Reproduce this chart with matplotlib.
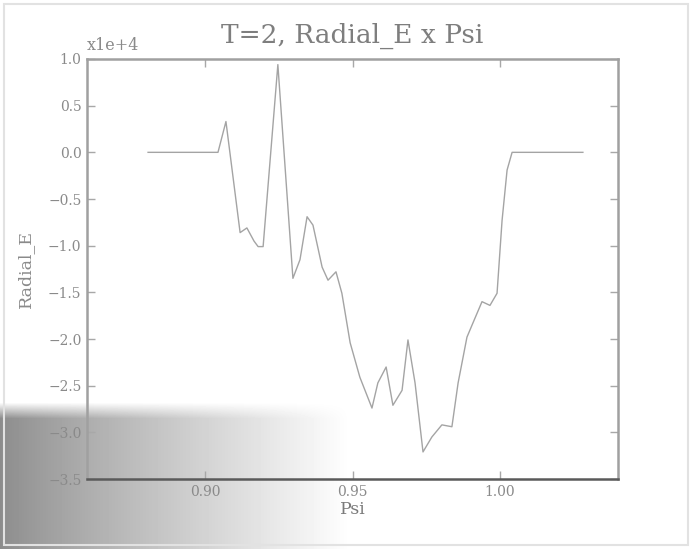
import matplotlib
matplotlib.use("Agg")
import matplotlib.pyplot as plt
import numpy as np
from matplotlib.ticker import FuncFormatter
from matplotlib.patches import Rectangle

# radial electric field profile at T=2
psi = [0.8807, 0.9044, 0.9071, 0.9119, 0.9142, 0.9166, 0.9180, 0.9197,
       0.9247, 0.9298, 0.9322, 0.9346, 0.9366, 0.9397, 0.9417, 0.9444,
       0.9464, 0.9492, 0.9525, 0.9566, 0.9586, 0.9614, 0.9637, 0.9668,
       0.9688, 0.9712, 0.9739, 0.9769, 0.9803, 0.9837, 0.9858, 0.9888,
       0.9908, 0.9939, 0.9966, 0.9990, 1.0007, 1.0024, 1.0041, 1.0281]
radial_e = [0, 0, 3300, -8600, -8100, -9500, -10100, -10100,
            9400, -13500, -11500, -6900, -7800, -12300, -13700, -12800,
            -15100, -20400, -24100, -27400, -24700, -23000, -27100, -25500,
            -20100, -24700, -32100, -30500, -29200, -29400, -24700, -19800,
            -18300, -16000, -16400, -15100, -7300, -1900, 0, 0]

xticks = [0.90, 0.95, 1.00]
yticks = np.arange(-3.5, 1.01, 0.5) * 1e4

W, H = 693, 549
fig = plt.figure(figsize=(W / 100, H / 100), dpi=100)

# grey shading in the lower left corner
bg = fig.add_axes([0, 0, 1, 1], zorder=-1)
xx = np.arange(W)[None, :]
yy = np.arange(H)[:, None]
shade = 0.55 + 0.45 * np.clip(xx / 350.0, 0, 1) ** 0.9
edge = np.clip((yy - 402) / 16.0, 0, 1)
img = 1 - (1 - shade) * edge
bg.imshow(img, cmap="gray", vmin=0, vmax=1, aspect="auto",
          extent=[0, W, H, 0], interpolation="bilinear")
bg.set_xlim(0, W)
bg.set_ylim(H, 0)
bg.axis("off")
fig.patches.append(Rectangle((4 / W, 4 / H), 684 / W, 541 / H,
                             transform=fig.transFigure, fill=False,
                             edgecolor="#e2e2e2", lw=1.5))

ax = fig.add_axes([87 / W, 1 - 479 / H, 531 / W, 420 / H])
ax.patch.set_alpha(0)
ax.plot(psi, radial_e, color="#a4a4a4", lw=1.0)

ax.set_xlim(0.86, 1.04)
ax.set_ylim(-3.5e4, 1.0e4)
ax.set_xticks(xticks)
ax.set_yticks(yticks)
ax.xaxis.set_major_formatter(FuncFormatter(lambda v, p: f"{v:.2f}"))
ax.yaxis.set_major_formatter(
    FuncFormatter(lambda v, p: f"{v / 1e4:.1f}".replace("-", "\u2212")))
ax.tick_params(direction="in", top=True, right=True, length=6, width=1,
               color="#a8a8a8", labelcolor="#8a8a8a", pad=4)
for lab in ax.get_xticklabels() + ax.get_yticklabels():
    lab.set_family("DejaVu Serif")
    lab.set_fontsize(10)

for side in ["left", "top", "right"]:
    ax.spines[side].set_color("#a0a0a0")
    ax.spines[side].set_linewidth(1.8)
ax.spines["bottom"].set_color("#5a5a5a")
ax.spines["bottom"].set_linewidth(1.8)

ax.text(0.0, 1.012, "x1e+4", transform=ax.transAxes, ha="left",
        va="bottom", family="DejaVu Serif", fontsize=11.5, color="#8a8a8a")
ax.set_title("T=2, Radial_E x Psi", family="DejaVu Serif", fontsize=19,
             color="#7e7e7e", pad=12)
ax.set_xlabel("Psi", family="DejaVu Serif", fontsize=12.5, color="#7a7a7a",
              labelpad=2)
ax.set_ylabel("Radial_E", family="DejaVu Serif", fontsize=12.5,
              color="#8a8a8a", labelpad=10)

plt.savefig("out.png", dpi=100)
